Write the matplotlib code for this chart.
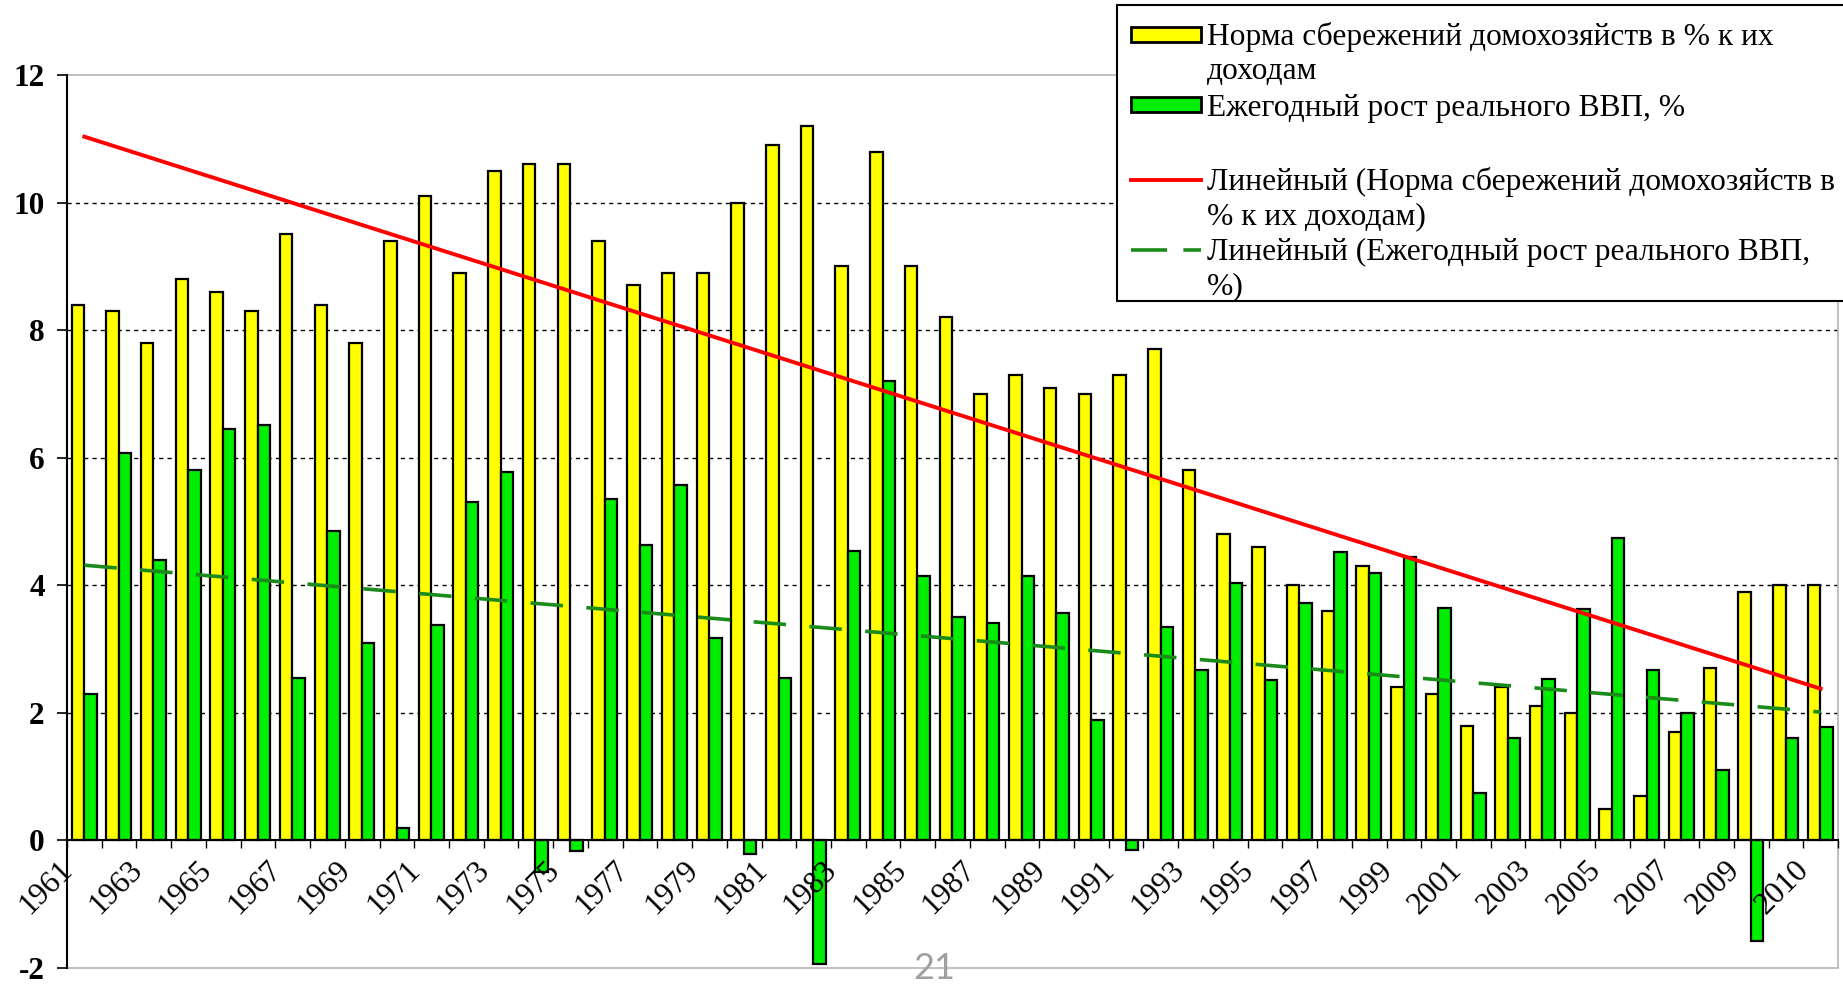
import numpy as np
import matplotlib
matplotlib.use('Agg')
import matplotlib.pyplot as plt
from matplotlib.patches import Rectangle
from matplotlib.lines import Line2D
from matplotlib.transforms import ScaledTranslation

# data
years = list(range(1961, 2012))
savings = [8.4, 8.3, 7.8, 8.8, 8.6, 8.3, 9.5, 8.4, 7.8, 9.4,
           10.1, 8.9, 10.5, 10.6, 10.6, 9.4, 8.7, 8.9, 8.9, 10.0,
           10.9, 11.2, 9.0, 10.8, 9.0, 8.2, 7.0, 7.3, 7.1, 7.0,
           7.3, 7.7, 5.8, 4.8, 4.6, 4.0, 3.6, 4.3, 2.4, 2.3,
           1.8, 2.4, 2.1, 2.0, 0.5, 0.7, 1.7, 2.7, 3.9, 4.0, 4.0]
gdp = [2.3, 6.08, 4.4, 5.8, 6.45, 6.52, 2.55, 4.85, 3.1, 0.19,
       3.38, 5.3, 5.77, -0.49, -0.17, 5.35, 4.63, 5.58, 3.17, -0.21,
       2.54, -1.93, 4.54, 7.2, 4.15, 3.5, 3.41, 4.15, 3.56, 1.89,
       -0.15, 3.34, 2.67, 4.04, 2.52, 3.72, 4.52, 4.2, 4.45, 3.65,
       0.74, 1.6, 2.53, 3.63, 4.74, 2.67, 2.0, 1.1, -1.57, 1.6, 1.78]
tick_pos = [0, 2, 4, 6, 8, 10, 12, 14, 16, 18, 20, 22, 24, 26, 28,
            30, 32, 34, 36, 38, 40, 42, 44, 46, 48, 50]
tick_labels = ['1961', '1963', '1965', '1967', '1969', '1971', '1973',
               '1975', '1977', '1979', '1981', '1983', '1985', '1987',
               '1989', '1991', '1993', '1995', '1997', '1999', '2001',
               '2003', '2005', '2007', '2009', '2010']
labels = ['Норма сбережений домохозяйств в % к их\nдоходам',
          'Ежегодный рост реального ВВП, %',
          'Линейный (Норма сбережений домохозяйств в\n% к их доходам)',
          'Линейный (Ежегодный рост реального ВВП,\n%)']

plt.rcParams['font.family'] = ['Liberation Serif', 'DejaVu Serif']

W, H = 1843, 984
fig = plt.figure(figsize=(W / 100, H / 100), dpi=100)
ax = fig.add_axes([67 / W, 1 - 968 / H, (1838 - 67) / W, (968 - 75) / H])

yellow = '#FFFF00'
green = '#00EE00'
dgreen = '#1A8A1A'

x = np.arange(len(years))
ax.bar(x - 0.19, savings, 0.36, color=yellow, edgecolor='black', linewidth=1.6, zorder=2)
ax.bar(x + 0.17, gdp, 0.36, color=green, edgecolor='black', linewidth=1.6, zorder=2)

# linear trends like Excel
ks, bs = np.polyfit(x, savings, 1)
kg, bg = np.polyfit(x, gdp, 1)
ends = x[[0, -1]]
ax.plot(ends, ks * ends + bs, color='red', lw=2.8, zorder=3)
ax.plot(ends, kg * ends + bg, color=dgreen, lw=2.6, dashes=(9, 6.5), zorder=3)

ax.set_xlim(-0.5, 50.5)
ax.set_ylim(-2, 12)

for v in [2, 4, 6, 8, 10]:
    ax.axhline(v, color='black', lw=1, dashes=(3, 3), zorder=0)

ax.add_patch(Rectangle((0, 0), 1, 1, transform=ax.transAxes, fill=False,
                       edgecolor='#B5B5B5', lw=1.2, zorder=0.5, clip_on=False))
ax.spines['top'].set_visible(False)
ax.spines['right'].set_visible(False)
ax.spines['bottom'].set_position(('data', 0))
ax.spines['bottom'].set_linewidth(1.5)
ax.spines['left'].set_linewidth(1.5)
ax.spines['bottom'].set_zorder(4)
ax.xaxis.set_zorder(5)

ax.set_yticks(range(-2, 13, 2))
ax.set_yticklabels([str(v) for v in range(-2, 13, 2)], fontsize=22.5, fontweight='bold')
ax.tick_params(axis='y', length=7, width=1.2, pad=9)

ax.set_xticks(np.arange(-0.5, 51, 1))
ax.set_xticklabels([])
ax.tick_params(axis='x', which='major', length=6, width=1)
ax.set_xticks(tick_pos, tick_labels, minor=True)
ax.tick_params(axis='x', which='minor', length=0, pad=18, labelsize=22.5)
shift = ScaledTranslation(-16 / 100, 0, fig.dpi_scale_trans)
for lab in ax.get_xticklabels(minor=True):
    lab.set_rotation(45)
    lab.set_rotation_mode('anchor')
    lab.set_ha('right')
    lab.set_va('center')
    lab.set_transform(lab.get_transform() + shift)


# legend drawn by hand so keys line up with the first text line
def fx(px):
    return px / W


def fy(py):
    return 1 - py / H


fig.add_artist(Rectangle((fx(1117), fy(301)), fx(1900 - 1117), (301 - 5) / H,
                         transform=fig.transFigure, facecolor='white',
                         edgecolor='black', lw=1.5, zorder=5, clip_on=False))
fig.add_artist(Rectangle((fx(1131), fy(42)), fx(70), 15 / H, transform=fig.transFigure,
                         facecolor=yellow, edgecolor='black', lw=2, zorder=6))
fig.add_artist(Rectangle((fx(1131), fy(112)), fx(70), 15 / H, transform=fig.transFigure,
                         facecolor=green, edgecolor='black', lw=2, zorder=6))
fig.add_artist(Line2D([fx(1131), fx(1201)], [fy(180), fy(180)], color='red', lw=2.8,
                      transform=fig.transFigure, zorder=6))
fig.add_artist(Line2D([fx(1131), fx(1201)], [fy(250), fy(250)], color=dgreen, lw=2.6,
                      dashes=(10, 4.5), transform=fig.transFigure, zorder=6))

first_rows = [35, 106, 180, 250]
for lab, row in zip(labels, first_rows):
    for i, line in enumerate(lab.split('\n')):
        fig.text(fx(1207), fy(row + 10 + 34 * i), line, fontsize=22.7,
                 va='baseline', ha='left', zorder=7)

fig.text(fx(934), fy(979), '21', fontsize=26, color='#A0A0A0', family='Lato',
         ha='center', va='baseline')

fig.savefig('out.png', dpi=100)
